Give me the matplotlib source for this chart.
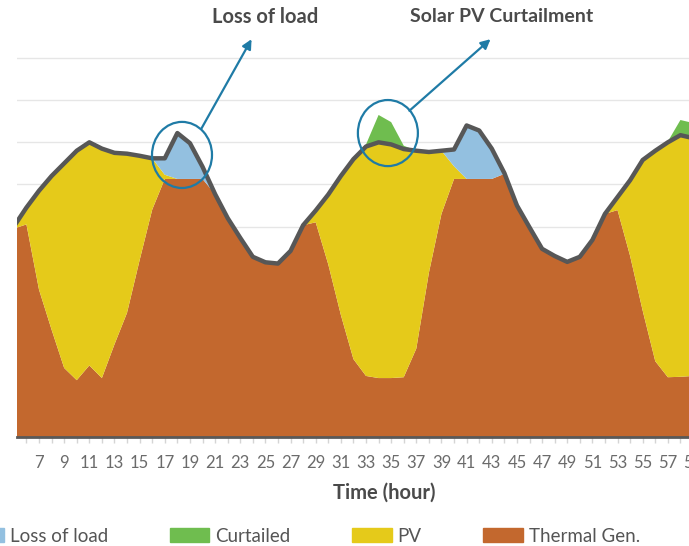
import numpy as np
import matplotlib.pyplot as plt
from matplotlib.patches import Ellipse, Patch

plt.rcParams['font.family'] = ['Lato', 'DejaVu Sans']

# ---------- data (hourly) ----------
hours = np.arange(5, 60)

load = np.array([
    5.00, 5.45, 5.85, 6.20, 6.50, 6.80, 7.00, 6.85, 6.75, 6.73,   # 5-14
    6.68, 6.62, 6.62, 7.22, 6.98, 6.42, 5.77, 5.20, 4.73, 4.28,   # 15-24
    4.15, 4.12, 4.42, 5.03, 5.38, 5.76, 6.20, 6.60, 6.90, 7.00,   # 25-34
    6.95, 6.84, 6.80, 6.77, 6.80, 6.83, 7.40, 7.28, 6.85, 6.27,   # 35-44
    5.50, 4.98, 4.47, 4.30, 4.16, 4.28, 4.68, 5.30, 5.70, 6.10,   # 45-54
    6.58, 6.80, 7.00, 7.17, 7.10])                                # 55-59

thermal = np.array([
    4.95, 5.05, 3.50, 2.55, 1.64, 1.35, 1.70, 1.40, 2.20, 2.95,
    4.20, 5.40, 6.13, 6.13, 6.13, 6.13, 5.77, 5.20, 4.73, 4.28,
    4.15, 4.12, 4.42, 5.03, 5.10, 4.10, 2.90, 1.85, 1.45, 1.40,
    1.40, 1.42, 2.10, 3.90, 5.30, 6.13, 6.13, 6.13, 6.13, 6.25,
    5.50, 4.98, 4.47, 4.30, 4.16, 4.28, 4.68, 5.30, 5.39, 4.30,
    3.00, 1.80, 1.42, 1.43, 1.45])

pv = np.array([
    0.05, 0.40, 2.35, 3.65, 4.86, 5.45, 5.30, 5.45, 4.55, 3.78,
    2.48, 1.22, 0.10, 0.00, 0.00, 0.00, 0.00, 0.00, 0.00, 0.00,
    0.00, 0.00, 0.00, 0.00, 0.28, 1.66, 3.30, 4.75, 5.45, 5.60,
    5.55, 5.42, 4.70, 2.87, 1.50, 0.30, 0.00, 0.00, 0.00, 0.00,
    0.00, 0.00, 0.00, 0.00, 0.00, 0.00, 0.00, 0.00, 0.31, 1.80,
    3.58, 5.00, 5.58, 5.74, 5.65])

curtailed = np.array([
    0, 0, 0, 0, 0, 0, 0, 0, 0, 0,
    0, 0, 0, 0, 0, 0, 0, 0, 0, 0,
    0, 0, 0, 0, 0, 0, 0, 0, 0.05, 0.65,
    0.53, 0.08, 0, 0, 0, 0, 0, 0, 0, 0,
    0, 0, 0, 0, 0, 0, 0, 0, 0, 0,
    0, 0, 0.02, 0.36, 0.36])

loss = np.clip(load - thermal - pv, 0, None)

legend_labels = ['Loss of load', 'Curtailed', 'PV', 'Thermal Gen.']

# ---------- colours ----------
c_thermal = '#c3682e'
c_pv = '#e5ca1a'
c_loss = '#93c0e0'
c_curt = '#6fbd4f'
c_line = '#575757'
c_note = '#1f7ba6'
c_text = '#4a4a4a'

fig = plt.figure(figsize=(6.89, 5.46), dpi=100)
ax = fig.add_axes([17 / 689, 109 / 546, 676 / 689, 433.6 / 546])

ax.stackplot(hours, thermal, pv, loss, curtailed,
             colors=[c_thermal, c_pv, c_loss, c_curt], lw=0, zorder=2)
ax.plot(hours, load, color=c_line, lw=3.2, solid_joinstyle='round', zorder=3)

# axes styling
ax.set_yticks(range(1, 10))
ax.yaxis.grid(True, color='#e6e6e6', lw=1)
ax.set_axisbelow(True)
ax.tick_params(axis='y', left=False, labelleft=False)
ax.set_xticks(range(5, 60, 2))
ax.set_xticks(range(6, 60, 2), minor=True)
ax.tick_params(axis='x', which='both', length=4, width=1, color='#d5d5d5',
               pad=9, labelsize=12, labelcolor='#6b6b6b')
for s in ['top', 'left', 'right']:
    ax.spines[s].set_visible(False)
ax.spines['bottom'].set_color('#595959')
ax.spines['bottom'].set_linewidth(2)
ax.spines['bottom'].set_zorder(4)

# limits after ticks (set_xticks widens the view)
ax.set_xlim(5.25, 59)
ax.set_ylim(0, 10.3)

ax.set_xlabel('Time (hour)', fontsize=14.5, fontweight='bold', color=c_text)
ax.xaxis.set_label_coords((384 - 17) / 676, -0.105)

# ---------- call-outs ----------
ax.add_patch(Ellipse((18.37, 6.7), 4.77, 1.57, fill=False, ec=c_note, lw=1.6, zorder=5))
ax.add_patch(Ellipse((34.74, 7.22), 4.77, 1.57, fill=False, ec=c_note, lw=1.6, zorder=5))

arrow = dict(arrowstyle='-|>', color=c_note, lw=1.6, mutation_scale=14, shrinkA=0, shrinkB=0)
ax.annotate('', xy=(23.9, 9.45), xytext=(19.9, 7.32), arrowprops=arrow, annotation_clip=False)
ax.annotate('', xy=(42.9, 9.45), xytext=(36.45, 7.75), arrowprops=arrow, annotation_clip=False)

ax.text(25.0, 9.98, 'Loss of load', ha='center', va='center', fontsize=14.5,
        fontweight='bold', color=c_text, clip_on=False)
ax.text(43.8, 9.98, 'Solar PV Curtailment', ha='center', va='center', fontsize=14,
        fontweight='bold', color=c_text, clip_on=False)

# ---------- legend ----------
handles = [Patch(color=c, label=l) for c, l in zip([c_loss, c_curt, c_pv, c_thermal], legend_labels)]
fig.legend(handles=handles, ncol=4, loc='center left', bbox_to_anchor=(-45 / 689, 10 / 546),
           frameon=False, fontsize=13.5, handlelength=2.13, handleheight=0.75,
           handletextpad=0.32, columnspacing=3.25, borderpad=0, labelcolor='#555555')

fig.savefig('out.png', dpi=100)
